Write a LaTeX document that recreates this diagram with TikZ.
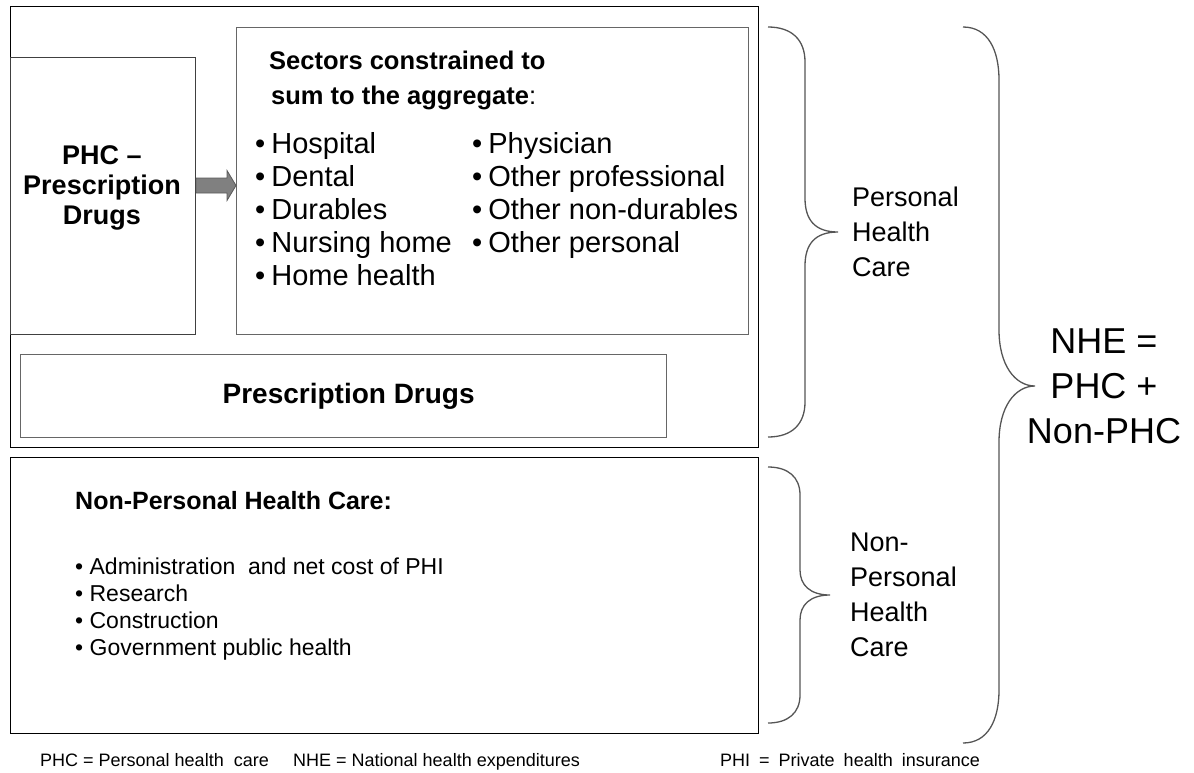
\documentclass[tikz,border=0pt]{standalone}
\usepackage{fontspec}
\setmainfont{Liberation Sans}
\usetikzlibrary{calc}
\definecolor{lgray}{HTML}{404040}
\definecolor{mgray}{HTML}{666666}
\definecolor{bracecol}{HTML}{555555}
\definecolor{arrowfill}{HTML}{808080}
\definecolor{arrowline}{HTML}{5A5A5A}
\newcommand{\bul}{•\hspace{6pt}}
\newcommand{\fsp}{\hspace{9pt}}
\begin{document}
\begin{tikzpicture}[x=1pt,y=-1pt,
  box/.style={draw=#1, line width=1.3pt, rectangle, inner sep=0pt, anchor=north west},
  box/.default=black,
  txt/.style={inner sep=0pt, text=black},
  brace/.style={draw=bracecol, line width=1.3pt}]
\useasboundingbox (0,0) rectangle (1194,772);

% boxes
\node[box=black, minimum width=748pt, minimum height=441pt] (outer) at (10,6) {};
\node[box=lgray, minimum width=185pt, minimum height=277pt] (lbox) at (10,57) {};
\node[box=mgray, minimum width=512pt, minimum height=307pt] (rbox) at (236,27) {};
\node[box=mgray, minimum width=646pt, minimum height=83pt] (pdbox) at (20,354) {};
\node[box=black, minimum width=748pt, minimum height=276pt] (nbox) at (10,457) {};

% block arrow
\coordinate (ay) at (0,185.5);
\coordinate (as) at (lbox.east |- ay);
\coordinate (at) at (rbox.west |- ay);
\filldraw[fill=arrowfill, draw=arrowline, line width=0.8pt]
  ($(as)+(0,-7.5)$) -- ($(at)+(-9,-7.5)$) -- ($(at)+(-9,-15)$) -- (at)
  -- ($(at)+(-9,15)$) -- ($(at)+(-9,7.5)$) -- ($(as)+(0,7.5)$) -- cycle;

% texts in top box
\node[txt, align=center, font=\bfseries\fontsize{27}{30}\selectfont] (phc) at (102,188) {PHC –\\Prescription\\Drugs};
\node[txt, anchor=base west, font=\bfseries\fontsize{25.5}{35}\selectfont] (sec1) at (269,69) {Sectors constrained to};
\node[txt, anchor=base west, font=\bfseries\fontsize{25.5}{35}\selectfont] (sec2) at (271,104) {sum to the aggregate{\mdseries :}};
\node[txt, anchor=north west, align=left, font=\fontsize{29}{33}\selectfont] (lcol) at (255,132)
  {\bul Hospital\\\bul Dental\\\bul Durables\\\bul Nursing home\\\bul Home health};
\node[txt, anchor=north west, align=left, font=\fontsize{29}{33}\selectfont] (rcol) at (472,132)
  {\bul Physician\\\bul Other professional\\\bul Other non-durables\\\bul Other personal};
\node[txt, font=\bfseries\fontsize{28}{30}\selectfont] (pdtext) at ($(pdbox.center)+(5,0)$) {Prescription Drugs};

% bottom box texts
\node[txt, anchor=base west, font=\bfseries\fontsize{25}{30}\selectfont] (nph) at (75,509) {Non-Personal Health Care:};
\node[txt, anchor=north west, align=left, font=\fontsize{23}{27}\selectfont] (nplist) at (75,558)
  {• Administration\ \ and net cost of PHI\\• Research\\• Construction\\• Government public health};

% braces
\draw[brace] (768,27) .. controls (792,27) and (805,40) .. (805,62) -- (805,198)
  .. controls (805,220) and (815,232) .. (838,232)
  .. controls (815,232) and (805,244) .. (805,266) -- (805,402)
  .. controls (805,424) and (792,437) .. (768,437);
\draw[brace] (768,467) .. controls (788,467) and (800,477) .. (800,495) -- (800,570)
  .. controls (800,585) and (810,595) .. (830,595)
  .. controls (810,595) and (800,605) .. (800,620) -- (800,695)
  .. controls (800,713) and (788,723) .. (768,723);
\draw[brace] (963,27) .. controls (988,27) and (999,50) .. (999,80) -- (999,330)
  .. controls (999,365) and (1015,386) .. (1035,386)
  .. controls (1015,386) and (999,407) .. (999,442) -- (999,690)
  .. controls (999,720) and (988,743) .. (963,743);

% brace labels
\node[txt, anchor=west, align=left, font=\fontsize{27}{35}\selectfont] (phclab) at (852,232) {Personal\\Health\\Care};
\node[txt, anchor=west, align=left, font=\fontsize{27}{35}\selectfont] (nphclab) at (850,595) {Non-\\Personal\\Health\\Care};
\node[txt, align=center, font=\fontsize{36}{45}\selectfont] (nhe) at (1104,386) {NHE =\\PHC +\\Non-PHC};

% footer
\node[txt, anchor=base west, font=\fontsize{18}{20}\selectfont] (f1) at (40,766) {PHC = Personal health\ \ care};
\node[txt, anchor=base west, font=\fontsize{18}{20}\selectfont] (f2) at (293,766) {NHE = National health expenditures};
\node[txt, anchor=base west, font=\fontsize{18}{20}\selectfont] (f3) at (720,766) {PHI\fsp=\fsp Private\fsp health\fsp insurance};
\end{tikzpicture}
\end{document}
